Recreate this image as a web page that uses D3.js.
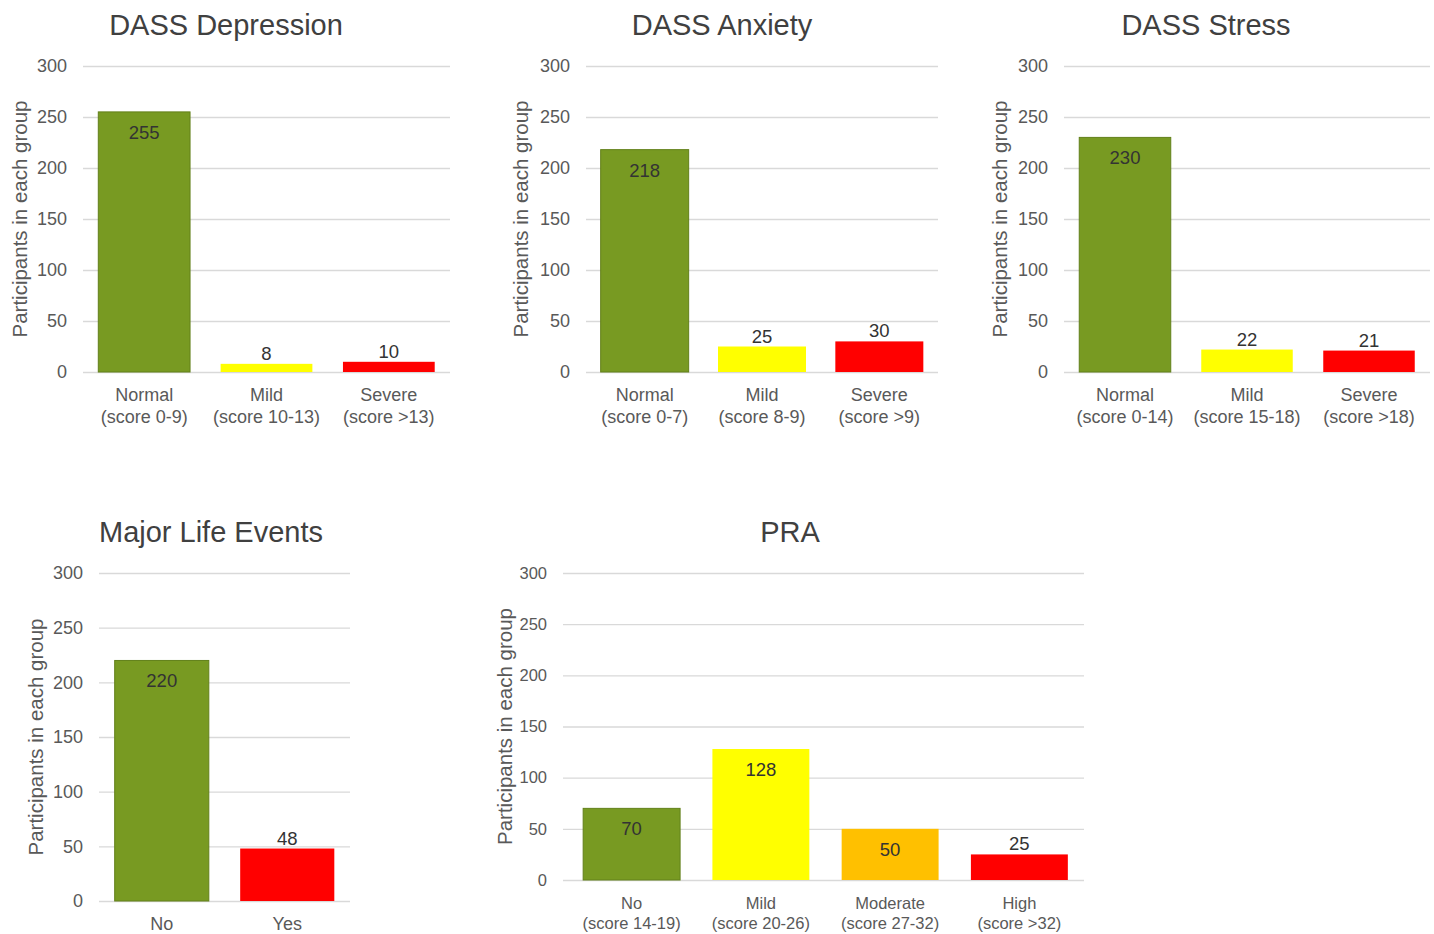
<!DOCTYPE html>
<html>
<head>
<meta charset="utf-8">
<script src="https://cdn.jsdelivr.net/npm/d3@7"></script>
<style>
  body { margin: 0; background: #fff; }
  svg { display: block; font-family: "Liberation Sans", Arial, sans-serif; }
</style>
</head>
<body>
<svg id="chart" width="1434" height="934"></svg>
<script>
// Dades de cada gràfic
var depressionGroups = ["Normal", "Mild", "Severe"];
var depressionRanges = ["(score 0-9)", "(score 10-13)", "(score >13)"];
var depressionValues = [255, 8, 10];

var anxietyGroups = ["Normal", "Mild", "Severe"];
var anxietyRanges = ["(score 0-7)", "(score 8-9)", "(score >9)"];
var anxietyValues = [218, 25, 30];

var stressGroups = ["Normal", "Mild", "Severe"];
var stressRanges = ["(score 0-14)", "(score 15-18)", "(score >18)"];
var stressValues = [230, 22, 21];

var lifeGroups = ["No", "Yes"];
var lifeRanges = ["", ""];
var lifeValues = [220, 48];

var praGroups = ["No", "Mild", "Moderate", "High"];
var praRanges = ["(score 14-19)", "(score 20-26)", "(score 27-32)", "(score >32)"];
var praValues = [70, 128, 50, 25];

var yTicks = [0, 50, 100, 150, 200, 250, 300];
var yLabel = "Participants in each group";

// Colors per grup
var colorByGroup = { Normal: "#789a22", No: "#789a22", Mild: "#ffff00", Moderate: "#ffc000", Severe: "#ff0000", High: "#ff0000", Yes: "#ff0000" };
var strokeByGroup = { Normal: "#62801a", No: "#62801a" };

var panels = [
    { title: "DASS Depression", groups: depressionGroups, ranges: depressionRanges, values: depressionValues,
      left: 83, right: 450, top: 66, bottom: 372, titleX: 226, titleY: 35, axisX: 20, fs: 18 },
    { title: "DASS Anxiety", groups: anxietyGroups, ranges: anxietyRanges, values: anxietyValues,
      left: 586, right: 938, top: 66, bottom: 372, titleX: 722, titleY: 35, axisX: 521, fs: 18 },
    { title: "DASS Stress", groups: stressGroups, ranges: stressRanges, values: stressValues,
      left: 1064, right: 1430, top: 66, bottom: 372, titleX: 1206, titleY: 35, axisX: 1000, fs: 18 },
    { title: "Major Life Events", groups: lifeGroups, ranges: lifeRanges, values: lifeValues,
      left: 99, right: 350, top: 573, bottom: 901, titleX: 211, titleY: 542, axisX: 36, fs: 18 },
    { title: "PRA", groups: praGroups, ranges: praRanges, values: praValues,
      left: 563, right: 1084, barLeft: 567, top: 573, bottom: 880, titleX: 790, titleY: 542, axisX: 505, fs: 16.5 }
];

var svg = d3.select("#chart");

function drawPanel(p) {
    var g = svg.append("g");
    var y = d3.scaleLinear().domain([0, 300]).range([p.bottom, p.top]);
    var x = d3.scaleBand().domain(p.groups).range([p.barLeft || p.left, p.right]).paddingInner(0.25).paddingOuter(0.125);

    // Línies de graella
    var grid = g.append("g").attr("transform", "translate(" + p.left + ",0)")
        .call(d3.axisLeft(y).tickValues(yTicks).tickSize(-(p.right - p.left)).tickFormat(""));
    grid.select(".domain").remove();
    grid.selectAll(".tick line").attr("stroke", "#d9d9d9").attr("stroke-width", 1.3);

    // Etiquetes de l'eix Y
    var ax = g.append("g").attr("transform", "translate(" + p.left + ",0)")
        .call(d3.axisLeft(y).tickValues(yTicks).tickSize(0).tickPadding(16));
    ax.select(".domain").remove();
    ax.selectAll("text").attr("fill", "#595959").style("font-size", p.fs + "px").style("font-family", "Liberation Sans, Arial, sans-serif");

    // Barres
    g.selectAll("rect.bar").data(p.values).enter().append("rect")
        .attr("class", "bar")
        .attr("x", function(d, i) { return x(p.groups[i]); })
        .attr("y", function(d) { return y(d); })
        .attr("width", x.bandwidth())
        .attr("height", function(d) { return y(0) - y(d); })
        .attr("fill", function(d, i) { return colorByGroup[p.groups[i]]; })
        .attr("stroke", function(d, i) { return strokeByGroup[p.groups[i]] || "none"; })
        .attr("stroke-width", 1);

    // Valors de les barres (dins si la barra és prou alta)
    g.selectAll("text.val").data(p.values).enter().append("text")
        .attr("class", "val")
        .attr("x", function(d, i) { return x(p.groups[i]) + x.bandwidth() / 2; })
        .attr("y", function(d) { return d >= 50 ? y(d) + 27 : y(d) - 4; })
        .attr("text-anchor", "middle")
        .attr("fill", "#333")
        .style("font-size", "18.5px")
        .text(function(d) { return d; });

    // Categories
    var cat = g.selectAll("text.cat").data(p.groups).enter().append("text")
        .attr("class", "cat")
        .attr("x", function(d) { return x(d) + x.bandwidth() / 2; })
        .attr("y", p.bottom + 29)
        .attr("text-anchor", "middle")
        .attr("fill", "#595959")
        .style("font-size", p.fs + "px");
    cat.append("tspan").text(function(d) { return d; });
    cat.append("tspan")
        .attr("x", function(d) { return x(d) + x.bandwidth() / 2; })
        .attr("dy", p.fs + 3.5)
        .text(function(d, i) { return p.ranges[i]; });

    // Títol
    g.append("text")
        .attr("x", p.titleX).attr("y", p.titleY)
        .attr("text-anchor", "middle")
        .attr("fill", "#404040")
        .style("font-size", "29px")
        .text(p.title);

    // Títol de l'eix
    g.append("text")
        .attr("transform", "translate(" + p.axisX + "," + ((p.top + p.bottom) / 2) + ") rotate(-90)")
        .attr("text-anchor", "middle")
        .attr("dy", "0.35em")
        .attr("fill", "#595959")
        .style("font-size", "20.5px")
        .text(yLabel);
}

panels.forEach(drawPanel);
</script>
</body>
</html>
